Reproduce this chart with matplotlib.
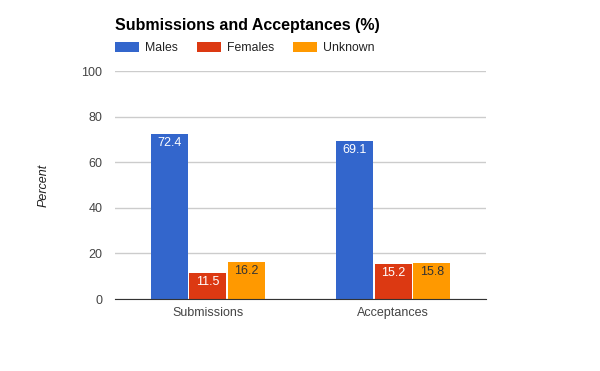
import matplotlib
matplotlib.use("Agg")
import matplotlib.pyplot as plt
import numpy as np

plt.rcParams['font.family'] = ['Liberation Sans', 'DejaVu Sans']

categories = ['Submissions', 'Acceptances']
series_names = ['Males', 'Females', 'Unknown']
males = [72.4, 69.1]
females = [11.5, 15.2]
unknown = [16.2, 15.8]
colors = ['#3366cc', '#dc3912', '#ff9900']
label_colors = ['white', 'white', '#333333']

fig = plt.figure(figsize=(6, 3.71), dpi=100)
ax = fig.add_axes([0.1917, 0.194, 0.618, 0.6146])

x = np.arange(len(categories))
width = 0.2
step = 0.208
handles = []
for i, (vals, name) in enumerate(zip([males, females, unknown], series_names)):
    pos = x + (i - 1) * step
    bars = ax.bar(pos, vals, width, color=colors[i], label=name, zorder=3)
    handles.append(bars)
    for xp, v in zip(pos, vals):
        ax.text(xp, v - 1.2, f'{v}', ha='center', va='top',
                color=label_colors[i], fontsize=9, zorder=4)

ax.set_xlim(-0.5, 1.5)
ax.set_ylim(0, 100)
ax.set_yticks([0, 20, 40, 60, 80, 100])
ax.set_xticks(x)
ax.set_xticklabels(categories)
ax.grid(axis='y', color='#cccccc', linewidth=1, zorder=0)
for s in ['top', 'right', 'left']:
    ax.spines[s].set_visible(False)
ax.spines['bottom'].set_color('#333333')
ax.spines['bottom'].set_zorder(5)
ax.tick_params(axis='both', length=0, colors='#444444', labelsize=9)
ax.tick_params(axis='y', pad=9)
ax.tick_params(axis='x', pad=6)
ax.set_ylabel('Percent', fontstyle='italic', color='#222222', fontsize=9,
              va='center')
ax.yaxis.set_label_coords(-0.192, 0.5)

fig.text(0.1917, 0.93, 'Submissions and Acceptances (%)', fontsize=11.5,
         fontweight='bold', ha='left', va='center')
fig.legend(handles=handles, loc='center left', bbox_to_anchor=(0.1917, 0.87),
           ncol=3, frameon=False, fontsize=8.8, handlelength=1.95,
           handleheight=0.85, handletextpad=0.5, columnspacing=1.55,
           borderpad=0, borderaxespad=0, labelcolor='#222222')

fig.savefig('out.png', dpi=100)
